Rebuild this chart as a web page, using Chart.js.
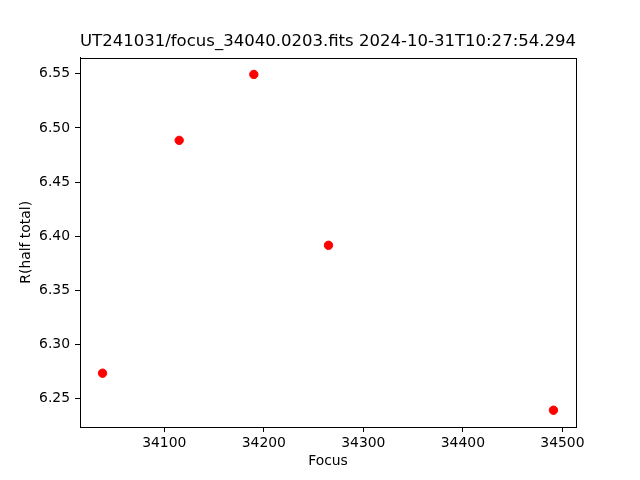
<!DOCTYPE html>
<html>
<head>
<meta charset="utf-8">
<script src="https://cdn.jsdelivr.net/npm/chart.js@4"></script>
<style>
  body { margin: 0; background: #fff; }
  canvas { display: block; }
</style>
</head>
<body>
<canvas id="chart" width="640" height="480"></canvas>
<script>
const focus = [34038, 34115, 34190, 34265, 34491];
const rHalf = [6.2735, 6.4885, 6.5494, 6.3916, 6.2393];
const xTicks = [34100, 34200, 34300, 34400, 34500];
const yTicks = [6.25, 6.30, 6.35, 6.40, 6.45, 6.50, 6.55];
const titleText = 'UT241031/focus_34040.0203.fits 2024-10-31T10:27:54.294';

// matplotlib style 5% margins around the data
let pad = (arr) => {
    let lo = Math.min(...arr), hi = Math.max(...arr);
    let m = (hi - lo) * 0.05;
    return [lo - m, hi + m];
};
const [xMin, xMax] = pad(focus);
const [yMin, yMax] = pad(rHalf);

Chart.defaults.font.family = 'DejaVu Sans';
Chart.defaults.color = '#000';

const frame = {
    id: 'frame',
    afterDraw(chart) {
        const { ctx, chartArea: a } = chart;
        ctx.save();
        ctx.strokeStyle = '#000';
        ctx.lineWidth = 1;
        ctx.strokeRect(Math.round(a.left) + 0.5, Math.round(a.top) + 0.5,
            Math.round(a.right - a.left), Math.round(a.bottom - a.top));
        ctx.restore();
    }
};

const data = {
    datasets: [{
        data: focus.map((x, i) => ({ x: x, y: rHalf[i] })),
        backgroundColor: '#ff0000',
        borderColor: '#ff0000',
        pointRadius: 4.2,
        pointHoverRadius: 4.2,
        showLine: false
    }]
};

const config = {
    type: 'scatter',
    data: data,
    options: {
        responsive: false,
        animation: false,
        events: [],
        layout: { padding: { left: 0, right: 64, top: 0, bottom: 0 } },
        plugins: {
            legend: { display: false },
            tooltip: { enabled: false },
            title: {
                display: true,
                fullSize: false,
                text: titleText,
                color: '#000',
                font: { size: 16.7, weight: 'normal' },
                padding: { top: 32, bottom: 5.6 }
            }
        },
        scales: {
            x: {
                type: 'linear',
                min: xMin,
                max: xMax,
                afterBuildTicks: (s) => { s.ticks = xTicks.map(v => ({ value: v })); },
                afterFit: (s) => { s.height = 53; },
                ticks: {
                    font: { size: 13.9 },
                    padding: 3,
                    maxRotation: 0,
                    callback: (v) => String(v)
                },
                grid: { drawOnChartArea: false, drawTicks: true, tickLength: 5, tickColor: '#000' },
                border: { color: '#000', width: 1 },
                title: { display: true, text: 'Focus', font: { size: 13.9 }, padding: { top: 0, bottom: 10 } }
            },
            y: {
                type: 'linear',
                min: yMin,
                max: yMax,
                afterBuildTicks: (s) => { s.ticks = yTicks.map(v => ({ value: v })); },
                afterFit: (s) => { s.width = 80; },
                ticks: {
                    font: { size: 13.9 },
                    padding: 5,
                    callback: (v) => v.toFixed(2)
                },
                grid: { drawOnChartArea: false, drawTicks: true, tickLength: 5, tickColor: '#000' },
                border: { color: '#000', width: 1 },
                title: { display: true, text: 'R(half total)', font: { size: 13.9 }, padding: { top: 18, bottom: 0 } }
            }
        }
    },
    plugins: [frame]
};

const mychart = new Chart(document.getElementById('chart'), config);
</script>
</body>
</html>
